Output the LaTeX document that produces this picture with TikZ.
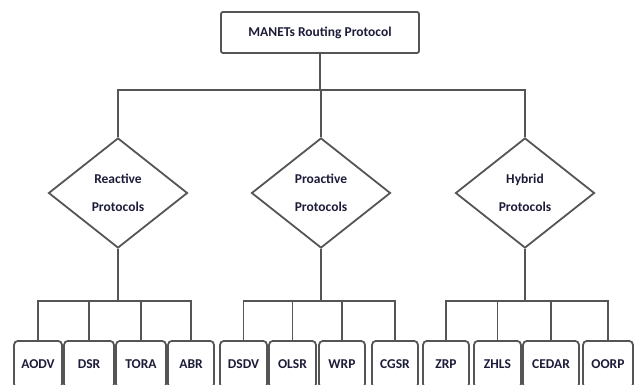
\documentclass[tikz,border=0pt]{standalone}
\usepackage{fontspec}
\setmainfont{Carlito}
\usetikzlibrary{shapes.geometric}
\definecolor{linec}{HTML}{555555}
\definecolor{txtc}{HTML}{1C1C3A}
\begin{document}
\begin{tikzpicture}[x=1pt,y=-1pt,
  conn/.style={draw=linec, line width=1.8pt},
  topbox/.style={draw=linec, line width=1.8pt, rounded corners=2pt, minimum width=198pt, minimum height=41pt, inner sep=0pt, text=txtc, font=\fontsize{13.5}{16}\selectfont\bfseries},
  dia/.style={diamond, draw=linec, line width=1.8pt, minimum width=139pt, minimum height=110pt, inner sep=0pt, align=center, text=txtc, font=\fontsize{13.5}{28}\selectfont\bfseries},
  leaf/.style={draw=linec, line width=1.8pt, rounded corners=4pt, minimum height=47pt, inner sep=0pt, anchor=north, text=txtc, font=\fontsize{13.5}{16}\selectfont\bfseries}
]
\useasboundingbox (0,0) rectangle (638,385);
\clip (0,0) rectangle (638,385);

\node[topbox] (root) at (320,32.5) {MANETs Routing Protocol};

\node[dia] (rea) at (118,193) {Reactive\\Protocols};
\node[dia] (pro) at (321,193) {Proactive\\Protocols};
\node[dia] (hyb) at (525,193) {Hybrid\\Protocols};

\coordinate (b0) at (320,90);
\draw[conn] (root.south) -- (b0);
\draw[conn] (rea.north) -- (rea.north |- b0) -- (hyb.north |- b0) -- (hyb.north);
\draw[conn] (pro.north) -- (pro.north |- b0);

\node[leaf, minimum width=48pt] (aodv) at (38,340) {AODV};
\node[leaf, minimum width=50pt] (dsr) at (89,340) {DSR};
\node[leaf, minimum width=50pt] (tora) at (141,340) {TORA};
\node[leaf, minimum width=46pt] (abr) at (191,340) {ABR};
\node[leaf, minimum width=47pt] (dsdv) at (243.5,340) {DSDV};
\node[leaf, minimum width=47pt] (olsr) at (292.5,340) {OLSR};
\node[leaf, minimum width=46pt] (wrp) at (342,340) {WRP};
\node[leaf, minimum width=46pt] (cgsr) at (395,340) {CGSR};
\node[leaf, minimum width=46pt] (zrp) at (446,340) {ZRP};
\node[leaf, minimum width=47pt] (zhls) at (497.5,340) {ZHLS};
\node[leaf, minimum width=56pt] (cedar) at (551,340) {CEDAR};
\node[leaf, minimum width=50pt] (oorp) at (608,340) {OORP};

\coordinate (rb) at (118,301);
\coordinate (pb) at (321,301);
\coordinate (hb) at (525,301);

\draw[conn] (rea.south) -- (rb);
\draw[conn] (aodv.north) -- (aodv.north |- rb) -- (abr.north |- rb) -- (abr.north);
\draw[conn] (dsr.north) -- (dsr.north |- rb);
\draw[conn] (tora.north) -- (tora.north |- rb);

\draw[conn] (pro.south) -- (pb);
\draw[conn] (dsdv.north) -- (dsdv.north |- pb) -- (cgsr.north |- pb) -- (cgsr.north);
\draw[conn] (olsr.north) -- (olsr.north |- pb);
\draw[conn] (wrp.north) -- (wrp.north |- pb);

\draw[conn] (hyb.south) -- (hb);
\draw[conn] (zrp.north) -- (zrp.north |- hb) -- (oorp.north |- hb) -- (oorp.north);
\draw[conn] (zhls.north) -- (zhls.north |- hb);
\draw[conn] (cedar.north) -- (cedar.north |- hb);
\end{tikzpicture}
\end{document}
